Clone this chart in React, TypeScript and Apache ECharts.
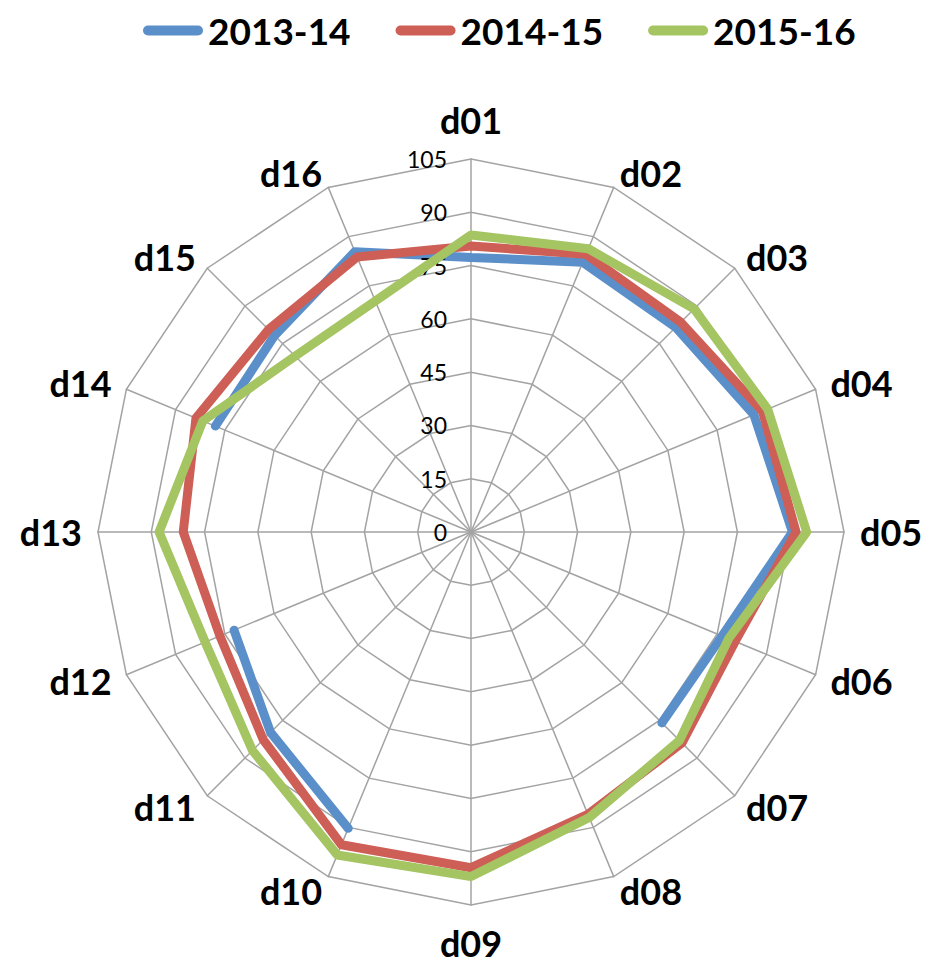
import React, { useEffect, useRef } from "react";
import * as echarts from "echarts";

const categories = [
  "d01", "d02", "d03", "d04", "d05", "d06", "d07", "d08",
  "d09", "d10", "d11", "d12", "d13", "d14", "d15", "d16",
];
const seriesNames = ["2013-14", "2014-15", "2015-16"];
const values2013_14: (number | null)[] = [
  77.3, 82.2, 81.5, 86.2, 90.5, 76.5, 76.0, null,
  null, 90.3, 79.8, 72.2, null, 77.9, 78.2, 85.4,
];
const values2014_15: (number | null)[] = [
  80.5, 84.6, 83.5, 88.8, 91.5, 80.5, 84.0, 86.0,
  94.5, 95.3, 82.7, 76.5, 81.0, 83.8, 80.6, 83.8,
];
const values2015_16: (number | null)[] = [
  83.6, 86.3, 88.8, 90.4, 94.5, 78.5, 83.0, 87.0,
  97.0, 98.4, 87.0, 81.0, 87.8, 81.7, 70.0, 70.4,
];
const radialMin = 0;
const radialMax = 105;
const radialInterval = 15;

const COLORS = ["#5B8FC9", "#CD5F57", "#A5C462"];
const GRID = "#A3A3A3";
const FONT = 'Lato, "Noto Sans", sans-serif';
const CENTER = [471, 532];
const RADIUS = 373;

export default function App() {
  const ref = useRef<HTMLDivElement>(null);

  useEffect(() => {
    if (!ref.current) return;
    const chart = echarts.init(ref.current, null, { renderer: "svg" });
    const n = categories.length;
    const allSeries = [values2013_14, values2014_15, values2015_16];

    const toPolar = (vals: (number | null)[]) => {
      const pts: any[] = vals.map((v, i) => [v === null ? "-" : v, i]);
      pts.push([vals[0] === null ? "-" : vals[0], n]);
      return pts;
    };

    // radar draws counter-clockwise; reverse the tail so the grid labels run clockwise
    const indicatorOrder = [categories[0], ...categories.slice(1).reverse()];
    const nameStyle = { color: "#000", fontFamily: FONT, fontWeight: "bold" as const, fontSize: 36 };

    chart.setOption({
      animation: false,
      backgroundColor: "#ffffff",
      legend: {
        top: 7,
        left: 138,
        itemWidth: 60,
        itemHeight: 10,
        itemGap: 45,
        itemStyle: { borderWidth: 0 },
        textStyle: { fontFamily: FONT, fontWeight: "bold", fontSize: 37, color: "#000" },
        data: seriesNames.map((name) => ({
          name,
          icon: "path://M5 0H55A5 5 0 0 1 55 10H5A5 5 0 0 1 5 0Z",
        })),
      },
      radar: {
        center: CENTER,
        radius: RADIUS,
        startAngle: 90,
        splitNumber: (radialMax - radialMin) / radialInterval,
        shape: "polygon",
        nameGap: 16,
        indicator: indicatorOrder.map((name) => ({ name, min: radialMin, max: radialMax })),
        axisName: {
          ...nameStyle,
          formatter: (name: string) => {
            if (name === categories[0]) return `{up|${name}}`;
            if (name === categories[8]) return `{down|${name}}`;
            return name;
          },
          rich: {
            up: { ...nameStyle, padding: [0, 0, 5, 0] },
            down: { ...nameStyle, lineHeight: 36, padding: [7, 0, 0, 0] },
          },
        },
        splitLine: { lineStyle: { color: GRID, width: 1.5 } },
        splitArea: { show: false },
        axisLine: { lineStyle: { color: GRID, width: 1.5 } },
        axisTick: { show: false },
        axisLabel: { show: false },
      },
      polar: { center: CENTER, radius: RADIUS },
      angleAxis: {
        type: "value",
        min: 0,
        max: n,
        startAngle: 90,
        clockwise: true,
        show: false,
      },
      radiusAxis: {
        type: "value",
        min: radialMin,
        max: radialMax,
        interval: radialInterval,
        axisLine: { show: false },
        axisTick: { show: false },
        splitLine: { show: false },
        axisLabel: {
          margin: 24,
          fontFamily: FONT,
          fontSize: 23,
          color: "#000",
          padding: [5, 0, 0, 0],
        },
        z: 5,
      },
      series: allSeries.map((vals, k) => ({
        type: "line",
        name: seriesNames[k],
        coordinateSystem: "polar",
        data: toPolar(vals),
        symbol: "none",
        connectNulls: false,
        color: COLORS[k],
        itemStyle: { color: COLORS[k] },
        lineStyle: { color: COLORS[k], width: 9, cap: "round", join: "round" },
        z: 3 + k,
      })),
    });

    return () => chart.dispose();
  }, []);

  return (
    <div
      ref={ref}
      style={{ position: "absolute", left: 0, top: 0, width: 929, height: 967 }}
    />
  );
}
